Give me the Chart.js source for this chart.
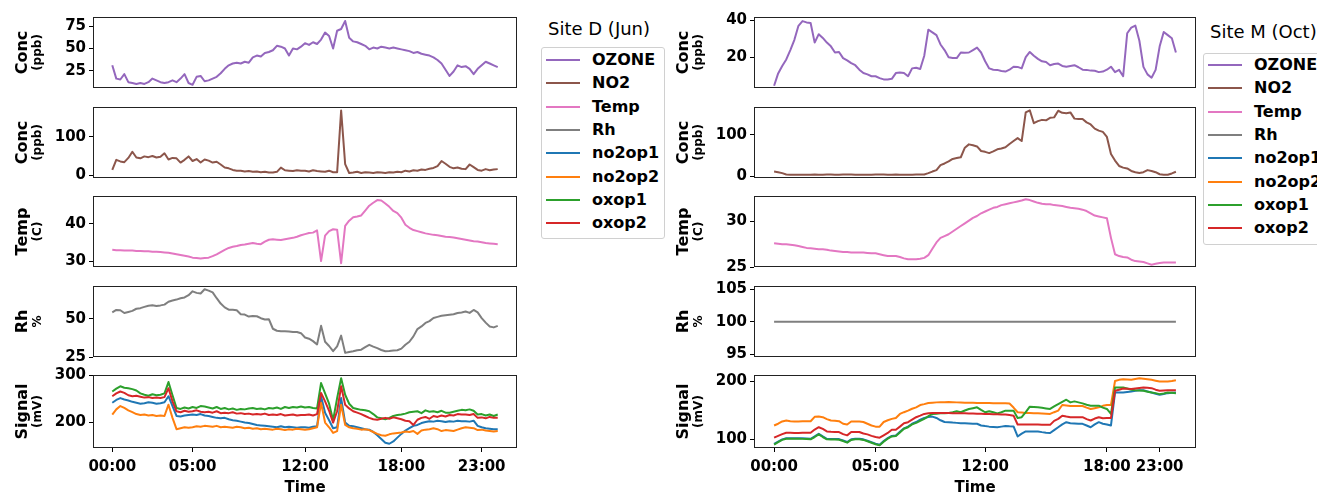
<!DOCTYPE html>
<html>
<head>
<meta charset="utf-8">
<script src="https://cdn.jsdelivr.net/npm/chart.js@4.4.0/dist/chart.umd.min.js"></script>
<style>
body { margin:0; width:1317px; height:493px; overflow:hidden; background:#fff; font-family:'DejaVu Sans'; position:relative; }
canvas { position:absolute; }
.ltitle { position:absolute; font-size:18px; line-height:22px; color:#000; white-space:nowrap; }
.lbox { position:absolute; border:1px solid #d0d0d0; border-radius:3px; background:#fff; }
.lrow { position:absolute; height:20px; }
.lrow .sw { position:absolute; left:0; top:9px; width:34px; height:2px; }
.lrow .tx { position:absolute; top:0; font-size:16px; font-weight:bold; line-height:20px; white-space:nowrap; color:#000; }
</style>
</head>
<body>
<script>
// ---- time axes ----
var leftHours = Array.from({length: 97}, function(_, i) { return i / 4; }); // 15 min steps
var rightIndex = Array.from({length: 100}, function(_, i) { return i; });  // sample number
var tickLabels = ['00:00', '05:00', '12:00', '18:00', '23:00'];
var leftTickPos = [0, 5, 12, 18, 23];
var rightTickPos = [0, 25, 52, 82, 95];

// ---- Site D (Jun) ----
var dOzone = [
  31, 16, 15, 21,
  12, 11, 10, 11,
  10, 12, 16, 14,
  12, 11, 12, 14,
  12, 16, 21, 11,
  9, 18, 19, 13,
  14, 16, 18, 22,
  27, 31, 33, 34,
  33, 35, 34, 40,
  42, 41, 45, 46,
  48, 53, 52, 50,
  42, 50, 49, 52,
  56, 54, 57, 55,
  60, 68, 64, 50,
  70, 72, 81, 62,
  58, 57, 55, 53,
  49, 51, 50, 52,
  51, 50, 51, 50,
  49, 48, 47, 45,
  46, 44, 43, 42,
  40, 37, 33, 26,
  19, 24, 31, 29,
  30, 27, 21, 27,
  31, 35, 33, 31,
  29];
var dNo2 = [
  14, 40, 36, 34,
  45, 61, 46, 44,
  49, 47, 50, 46,
  48, 57, 41, 45,
  44, 33, 40, 49,
  37, 42, 33, 41,
  38, 33, 35, 28,
  20, 18, 14, 12,
  12, 10, 11, 9,
  10, 8, 9, 7,
  7, 9, 20, 13,
  12, 11, 13, 12,
  12, 10, 13, 11,
  10, 9, 12, 8,
  8, 168, 29, 6,
  7, 9, 6, 8,
  7, 6, 8, 7,
  6, 8, 7, 9,
  8, 12, 10, 13,
  12, 15, 14, 17,
  19, 24, 37, 30,
  22, 18, 20, 17,
  16, 28, 21, 14,
  12, 16, 13, 15,
  16];
var dTemp = [
  33.0, 32.9, 32.9, 32.8,
  32.8, 32.8, 32.7, 32.7,
  32.6, 32.6, 32.5, 32.5,
  32.4, 32.3, 32.2, 32.0,
  31.8, 31.6, 31.4, 31.2,
  30.9, 30.8, 30.7, 30.8,
  30.9, 31.3, 31.8, 32.4,
  33.0, 33.5, 33.8, 34.0,
  34.3, 34.4, 34.6, 34.8,
  34.6, 34.5, 35.2, 35.7,
  35.8, 35.7, 35.6, 35.8,
  36.0, 36.2, 36.5, 36.9,
  37.2, 37.5, 37.6, 38.2,
  30.0, 36.8, 38.0, 38.5,
  38.4, 29.4, 39.4, 40.8,
  41.7, 41.9, 42.2, 43.5,
  44.8, 45.6, 46.3, 46.2,
  45.4, 44.5, 43.4, 42.8,
  41.6, 39.7, 38.9, 38.3,
  38.0, 37.7, 37.4, 37.2,
  37.0, 36.9, 36.7, 36.5,
  36.4, 36.3, 36.1, 35.9,
  35.7, 35.5, 35.3, 35.2,
  35.0, 34.8, 34.7, 34.6,
  34.5];
var dRh = [
  54.2, 55.8, 55.6, 53.8,
  54.5, 55.2, 56.6, 57.0,
  57.8, 58.6, 58.9, 58.4,
  58.8, 59.3, 61.2, 62.0,
  62.6, 63.5, 64.0, 65.5,
  68.0, 67.0, 66.6, 69.4,
  68.5, 67.3, 63.5, 60.0,
  57.5, 56.0, 55.9, 55.6,
  53.0, 52.8, 51.5, 51.9,
  51.7, 50.4, 49.6, 49.8,
  43.5, 42.2, 41.8, 41.9,
  41.7, 41.3, 41.4, 40.6,
  37.8, 37.0, 35.4, 33.2,
  45.4, 35.0, 32.2, 28.8,
  32.0, 39.0, 27.7, 28.3,
  28.8, 29.4, 29.8, 31.5,
  33.0, 31.8, 30.8, 29.6,
  28.8, 28.9, 29.2, 29.4,
  30.5, 33.0, 35.0, 38.5,
  43.3, 45.0, 47.3, 48.5,
  50.6, 51.3, 52.0, 52.4,
  52.7, 53.0, 53.8, 54.2,
  54.8, 53.9, 55.8, 54.2,
  50.5, 47.5, 45.0, 44.4,
  45.4];
var dNo2op1 = [
  242, 248, 252, 249,
  247, 244, 242, 240,
  241, 243, 242, 240,
  241, 243, 256, 235,
  214, 213, 215, 216,
  217, 216, 218, 215,
  214, 212, 210, 209,
  210, 207, 205, 204,
  202, 200, 199, 197,
  195, 194, 193, 192,
  191, 190, 192, 190,
  191, 190, 189, 190,
  190, 189, 191, 192,
  256, 221, 205, 188,
  190, 252, 200, 193,
  192, 190, 188, 186,
  185, 180, 173, 165,
  157, 155, 160, 168,
  176, 183, 188, 193,
  195, 199, 201, 203,
  202, 204, 203, 201,
  203, 202, 204, 203,
  203, 202, 204, 193,
  190, 188, 187, 186,
  186];
var dNo2op2 = [
  217, 228, 235, 231,
  226, 222, 218, 216,
  217, 215, 216, 214,
  215, 214, 238, 210,
  186, 188, 190, 189,
  190, 192, 191, 193,
  192, 191, 193, 190,
  191, 190, 189, 191,
  190, 188, 189, 187,
  188, 186, 187, 186,
  185, 187, 186, 184,
  186, 185, 187, 186,
  185, 186, 188, 190,
  242, 200, 190, 178,
  182, 238, 195, 190,
  188, 187, 185, 186,
  184, 180, 176, 173,
  172, 175, 177, 178,
  179, 181, 180, 182,
  176, 183, 185, 186,
  188, 186, 182, 184,
  183, 182, 185, 188,
  190, 189, 188, 184,
  185, 183, 182, 181,
  182];
var dOxop1 = [
  266, 272, 277, 274,
  273, 271, 268, 262,
  259, 257, 260, 258,
  259, 262, 286, 258,
  231, 229, 232, 230,
  233, 231, 235, 234,
  232, 230, 233, 229,
  231, 228, 230, 227,
  229, 228, 230, 231,
  229, 230, 228, 231,
  230, 232, 229, 233,
  231, 233, 232, 234,
  232, 233, 231, 230,
  284, 262, 240, 205,
  252, 294, 259, 240,
  231, 229, 227, 226,
  224, 218, 211, 209,
  207, 210, 214, 216,
  217, 219, 222, 223,
  224, 220, 226, 223,
  224, 222, 225, 221,
  221, 223, 225, 227,
  226, 228, 225, 217,
  218, 215, 217, 214,
  217];
var dOxop2 = [
  256, 262, 266, 263,
  258, 256, 257, 255,
  253, 254, 252, 253,
  252, 254, 273, 245,
  224, 222, 225, 223,
  224, 226, 223, 222,
  223, 221, 224, 220,
  221, 220, 222, 219,
  220, 218, 219, 217,
  218, 217, 219, 216,
  217, 216, 218, 215,
  216, 217, 215, 216,
  216, 217, 215, 218,
  263, 245, 225, 200,
  224, 277, 238, 230,
  224, 221, 218, 214,
  210, 207, 206, 208,
  210, 208, 211, 209,
  207, 204, 203, 195,
  206, 210, 212, 208,
  214, 212, 215, 213,
  216, 215, 218, 217,
  217, 216, 218, 210,
  211, 209, 212, 210,
  210];

// ---- Site M (Oct) ----
var mOzone = [
  4.9, 11.5, 15.5, 19, 24, 29.5, 37, 39.5, 38.8, 38.5,
  28, 32.5, 30.5, 28, 26, 22.7, 23, 19.7, 18.5, 17,
  15.9, 13.5, 11.7, 11, 10, 10, 9, 8.3, 8.2, 8.6,
  11.7, 12, 11.7, 10, 14.2, 14.5, 13.9, 21, 34.9, 33.5,
  32, 27, 24, 20.2, 19.8, 19.7, 22.7, 22.6, 22.7, 24,
  25.3, 22.7, 18, 14.2, 13.5, 13.4, 12.8, 12.5, 13.5, 15.1,
  15, 14.2, 20.2, 23, 21, 19.3, 18, 17.6, 15.9, 16.5,
  16.8, 15.5, 15.1, 15.5, 15.9, 14.8, 13.5, 13.4, 13, 12.9,
  12.2, 12.5, 13.5, 15.1, 12.2, 13.4, 10, 33, 36, 37.1,
  29, 15, 11, 9.2, 13.4, 26, 33.7, 32, 30.3, 22.7];
var mNo2 = [
  11.5, 10, 7.7, 4.5, 3.8, 3.6, 3.8, 4, 3.9, 4.1,
  4.2, 4, 4.1, 4.3, 4.2, 4, 3.9, 4.2, 4.4, 4.3,
  4.1, 4, 3.8, 3.9, 4.1, 4.4, 4.6, 4.3, 4.1, 4,
  4.2, 4.1, 4, 3.9, 4.1, 4.2, 4.3, 4.5, 7.7, 11.5,
  15, 27, 31, 36, 42, 44, 46, 69, 77, 75,
  72, 61, 59, 56, 60, 65, 67, 70, 78, 85,
  92, 85, 154, 159, 128, 133, 136, 135, 141, 142,
  158, 153, 152, 154, 139, 138, 138, 130, 125, 115,
  110, 107, 95, 54, 38, 25, 21, 19, 13, 10,
  8, 10, 15, 13, 10, 5, 4, 4, 7, 11];
var mTemp = [
  27.6, 27.55, 27.5, 27.5, 27.45, 27.4, 27.3, 27.2, 27.1, 27.05,
  27.0, 26.95, 26.95, 26.9, 26.8, 26.75, 26.7, 26.65, 26.65, 26.6,
  26.6, 26.6, 26.6, 26.55, 26.5, 26.5, 26.4, 26.3, 26.2, 26.2,
  26.2, 26.1, 25.95, 25.85, 25.85, 25.85, 25.9, 26.0, 26.3, 27.0,
  27.7, 28.2, 28.4, 28.6, 28.9, 29.2, 29.5, 29.8, 30.1, 30.4,
  30.6, 30.9, 31.1, 31.3, 31.5, 31.6, 31.8, 31.9, 32.0, 32.1,
  32.2, 32.3, 32.45, 32.35, 32.2, 32.05, 31.95, 31.9, 31.9, 31.8,
  31.75, 31.7, 31.6, 31.5, 31.45, 31.4, 31.3, 31.15, 30.9, 30.65,
  30.55, 30.45, 30.35, 28.2, 26.4, 26.2, 26.1, 26.05, 25.8, 25.65,
  25.6, 25.55, 25.4, 25.25, 25.35, 25.45, 25.5, 25.5, 25.5, 25.5];
var mRh = [
  100, 100, 100, 100, 100, 100, 100, 100, 100, 100,
  100, 100, 100, 100, 100, 100, 100, 100, 100, 100,
  100, 100, 100, 100, 100, 100, 100, 100, 100, 100,
  100, 100, 100, 100, 100, 100, 100, 100, 100, 100,
  100, 100, 100, 100, 100, 100, 100, 100, 100, 100,
  100, 100, 100, 100, 100, 100, 100, 100, 100, 100,
  100, 100, 100, 100, 100, 100, 100, 100, 100, 100,
  100, 100, 100, 100, 100, 100, 100, 100, 100, 100,
  100, 100, 100, 100, 100, 100, 100, 100, 100, 100,
  100, 100, 100, 100, 100, 100, 100, 100, 100, 100];
var mNo2op1 = [
  92, 96, 100, 102, 102, 102, 102, 101.8, 101.5, 101,
  105, 109.7, 105, 101, 100.8, 100.6, 100.4, 98, 95.3, 100,
  101, 101, 100, 97.6, 95, 92.5, 90.7, 97, 102, 106,
  106.7, 113, 119, 122, 127, 130, 134, 137, 138.5, 139.4,
  137, 133, 130, 129.7, 129, 128.5, 128, 127.8, 127.5, 127.2,
  127, 124, 122.9, 122, 121.5, 121, 122, 122.9, 122.5, 122.3,
  105, 110, 113.7, 113.7, 113.7, 113.7, 112.5, 111.5, 110.9, 116,
  121, 126, 129.7, 128, 127.5, 127, 126.9, 124, 121, 126,
  129.7, 127, 125.7, 124, 181, 181, 181, 182, 182.9, 184,
  185, 185.1, 183, 181, 179, 177.1, 178.5, 180, 180.5, 181];
var mNo2op2 = [
  124, 127, 131, 132.6, 131.5, 131, 131, 131.2, 131.4, 131.4,
  139, 139.4, 138.3, 135, 132.6, 132, 131.4, 127, 125.7, 131,
  131, 131, 130, 127, 124, 122, 122, 130, 133, 135.4,
  137, 144, 147, 149.7, 153, 155.4, 159.4, 161, 162.9, 163.5,
  164, 164.2, 164.4, 164.6, 164.4, 164, 163.8, 163.4, 163.3, 163.2,
  163.1, 163, 162.9, 162.8, 162.7, 162.6, 162.5, 162.3, 162, 155,
  146.9, 146.5, 145.7, 145.5, 145.3, 145, 144.8, 144.5, 144, 147,
  149.7, 159.4, 158.5, 157.7, 157.7, 157.7, 157.7, 155, 152.6, 154,
  155.4, 158, 159.4, 159.4, 201, 203, 204, 203.5, 203, 204.5,
  205.7, 205, 204, 203, 201.5, 200, 200, 200, 201, 202.3];
var mOxop1 = [
  90.9, 95, 99, 101.1, 101.1, 101.1, 101, 100.8, 100.5, 100,
  104, 108.6, 104, 100, 99.8, 99.6, 99.4, 97, 94.3, 99,
  100, 100, 99, 96.6, 94, 91.5, 89.7, 96, 101.1, 105,
  105.7, 112, 118.3, 121, 126, 128.6, 132, 135.4, 140, 144,
  144.5, 145, 145.3, 145.7, 147, 148.6, 146.9, 150, 152.6, 154,
  155.4, 151, 146.9, 148.6, 147, 145, 147, 149.7, 149.7, 149.7,
  137, 138.3, 147, 156.6, 156, 155.4, 154.5, 153.5, 152.6, 157,
  161, 165, 168.6, 164, 165.7, 164, 162.3, 160, 158.3, 158.3,
  158.3, 155, 152.6, 144, 189.7, 189.7, 189.7, 188, 186, 185.1,
  184.5, 184, 182.5, 181, 180, 178.3, 179.5, 181, 180.5, 180];
var mOxop2 = [
  102.9, 106, 109, 111.4, 111.2, 110.9, 111, 111.2, 111.4, 111.4,
  117, 121, 118, 113.7, 113, 112.6, 112.6, 109, 106.9, 112.6,
  112.6, 112.6, 110, 108.6, 106, 104, 102.9, 107, 111, 116.6,
  116.6, 122, 128, 129.7, 134, 138.3, 141, 144, 145, 145.7,
  145.7, 145.6, 145.5, 145.4, 145.3, 145.2, 145.1, 145, 144.8, 144.6,
  144.4, 144.2, 144, 143.8, 143.6, 143.4, 143.2, 142.9, 142, 141,
  125.7, 125.7, 125.7, 125.7, 125.7, 125.5, 125.3, 125.2, 125.1, 132,
  135.4, 141, 139.5, 138.3, 138.3, 138.3, 138.3, 135, 132.6, 136,
  138.3, 136.6, 136.8, 137, 184, 186, 188, 187.5, 187, 188,
  189, 189.7, 189.2, 188.6, 186, 184, 184.5, 185, 185, 185.1];

var seriesNames = ['OZONE', 'NO2', 'Temp', 'Rh', 'no2op1', 'no2op2', 'oxop1', 'oxop2'];
var seriesColors = ['#9467bd', '#8c564b', '#e377c2', '#7f7f7f', '#1f77b4', '#ff7f0e', '#2ca02c', '#d62728'];

Chart.defaults.font.family = "'DejaVu Sans'";
Chart.defaults.color = '#000';

var frameTops = [15, 105, 194, 284, 373];
var frameH = 75, yAxisW = 92;

// full box around each subplot + two-size y label
var framePlugin = {
  id: 'frame',
  afterDatasetsDraw: function(chart) {
    var a = chart.chartArea, ctx = chart.ctx;
    ctx.save();
    ctx.strokeStyle = '#222';
    ctx.lineWidth = 1;
    ctx.strokeRect(Math.round(a.left) + 0.5, Math.round(a.top) + 0.5, Math.round(a.width) - 1, Math.round(a.height) - 1);
    ctx.restore();
  },
  afterDraw: function(chart) {
    var t = chart.options.plugins.frame.ytitle;
    var a = chart.chartArea, ctx = chart.ctx, mid = (a.top + a.bottom) / 2;
    ctx.save();
    ctx.fillStyle = '#000';
    ctx.textAlign = 'center';
    ctx.textBaseline = 'middle';
    ctx.translate(a.left - 70, mid);
    ctx.rotate(-Math.PI / 2);
    ctx.font = "bold 16px 'DejaVu Sans'";
    ctx.fillText(t[0], 0, 0);
    ctx.font = "bold 12px 'DejaVu Sans'";
    ctx.fillText(t[1], 0, 15);
    ctx.restore();
  }
};

function makePanel(groupLeft, frameW, row, xs, xRange, xTicks, series, yMin, yMax, yTicks, ytitle) {
  var bottom = row === 4;
  var c = document.createElement('canvas');
  var w = yAxisW + frameW + 10, h = frameH + 10 + (bottom ? 48 : 10);
  c.width = w; c.height = h;
  c.style.left = (groupLeft - yAxisW) + 'px';
  c.style.top = (frameTops[row] - 10) + 'px';
  c.style.width = w + 'px'; c.style.height = h + 'px';
  document.body.appendChild(c);

  var datasets = series.map(function(s) {
    return {
      label: seriesNames[s.k],
      data: s.v.map(function(v, i) { return {x: xs[i], y: v}; }),
      borderColor: seriesColors[s.k],
      backgroundColor: seriesColors[s.k],
      borderWidth: 2,
      pointRadius: 0,
      borderJoinStyle: 'round',
      tension: 0,
      order: s.order || 0
    };
  });

  new Chart(c, {
    type: 'line',
    data: {datasets: datasets},
    plugins: [framePlugin],
    options: {
      responsive: false,
      animation: false,
      layout: {padding: {top: 10, right: 10, bottom: bottom ? 0 : 10, left: 0}},
      plugins: {legend: {display: false}, tooltip: {enabled: false}, frame: {ytitle: ytitle}},
      scales: {
        x: {
          type: 'linear', min: xRange[0], max: xRange[1], display: bottom,
          afterBuildTicks: function(ax) { ax.ticks = xTicks.map(function(v) { return {value: v}; }); },
          afterFit: function(ax) { ax.height = bottom ? 48 : 0; },
          ticks: {
            autoSkip: false, maxRotation: 0, padding: 6,
            font: {size: 15, weight: 'bold'}, color: '#000',
            callback: function(v) { return tickLabels[xTicks.indexOf(v)]; }
          },
          grid: {drawOnChartArea: false, drawTicks: true, tickLength: 4, color: '#000'},
          border: {display: false},
          title: {display: true, text: 'Time', font: {size: 15, weight: 'bold'}, color: '#000', padding: {top: 0, bottom: -1}}
        },
        y: {
          min: yMin, max: yMax,
          afterBuildTicks: function(ax) { ax.ticks = yTicks.map(function(v) { return {value: v}; }); },
          afterFit: function(ax) { ax.width = yAxisW; },
          ticks: {padding: 3, font: {size: 15, weight: 'bold'}, color: '#000'},
          grid: {drawOnChartArea: false, drawTicks: true, tickLength: 4, color: '#000'},
          border: {display: false}
        }
      }
    }
  });
}

var L = 93, LW = 424, R = 754, RW = 442;
var lx = [-1.2, 25.2], rx = [-4.95, 103.95];

makePanel(L, LW, 0, leftHours, lx, leftTickPos, [{k: 0, v: dOzone}], 5.4, 85.5, [25, 50, 75], ['Conc', '(ppb)']);
makePanel(L, LW, 1, leftHours, lx, leftTickPos, [{k: 1, v: dNo2}], -7, 177, [0, 100], ['Conc', '(ppb)']);
makePanel(L, LW, 2, leftHours, lx, leftTickPos, [{k: 2, v: dTemp}], 28.4, 47.4, [30, 40], ['Temp', '(C)']);
makePanel(L, LW, 3, leftHours, lx, leftTickPos, [{k: 3, v: dRh}], 25, 71.5, [25, 50], ['Rh', '%']);
makePanel(L, LW, 4, leftHours, lx, leftTickPos, [
  {k: 4, v: dNo2op1, order: 3}, {k: 5, v: dNo2op2, order: 2},
  {k: 6, v: dOxop1, order: 1}, {k: 7, v: dOxop2, order: 0}], 146, 301, [200, 300], ['Signal', '(mV)']);

makePanel(R, RW, 0, rightIndex, rx, rightTickPos, [{k: 0, v: mOzone}], 3.7, 41.7, [20, 40], ['Conc', '(ppb)']);
makePanel(R, RW, 1, rightIndex, rx, rightTickPos, [{k: 1, v: mNo2}], -4, 167, [0, 100], ['Conc', '(ppb)']);
makePanel(R, RW, 2, rightIndex, rx, rightTickPos, [{k: 2, v: mTemp}], 25, 32.8, [25, 30], ['Temp', '(C)']);
makePanel(R, RW, 3, rightIndex, rx, rightTickPos, [{k: 3, v: mRh}], 94.6, 105.5, [95, 100, 105], ['Rh', '%']);
makePanel(R, RW, 4, rightIndex, rx, rightTickPos, [
  {k: 4, v: mNo2op1, order: 3}, {k: 5, v: mNo2op2, order: 2},
  {k: 6, v: mOxop1, order: 1}, {k: 7, v: mOxop2, order: 0}], 85, 211.4, [100, 200], ['Signal', '(mV)']);

// legends
function makeLegend(title, boxLeft, boxTop, boxW, boxH, titleTop, firstRow) {
  var t = document.createElement('div');
  t.className = 'ltitle';
  t.textContent = title;
  t.style.left = (boxLeft + 7) + 'px';
  t.style.top = titleTop + 'px';
  document.body.appendChild(t);
  var b = document.createElement('div');
  b.className = 'lbox';
  b.style.left = boxLeft + 'px'; b.style.top = boxTop + 'px';
  b.style.width = boxW + 'px'; b.style.height = boxH + 'px';
  document.body.appendChild(b);
  seriesNames.forEach(function(name, k) {
    var r = document.createElement('div');
    r.className = 'lrow';
    r.style.left = (boxLeft + 5) + 'px';
    r.style.top = (firstRow + k * 23.3 - 10) + 'px';
    r.innerHTML = '<div class="sw" style="background:' + seriesColors[k] + '"></div><div class="tx" style="left:46px">' + name + '</div>';
    document.body.appendChild(r);
  });
}
makeLegend('Site D (Jun)', 541, 47, 122, 190, 18, 60);
makeLegend('Site M (Oct)', 1203, 53, 130, 190, 21, 65);
</script>
</body>
</html>
